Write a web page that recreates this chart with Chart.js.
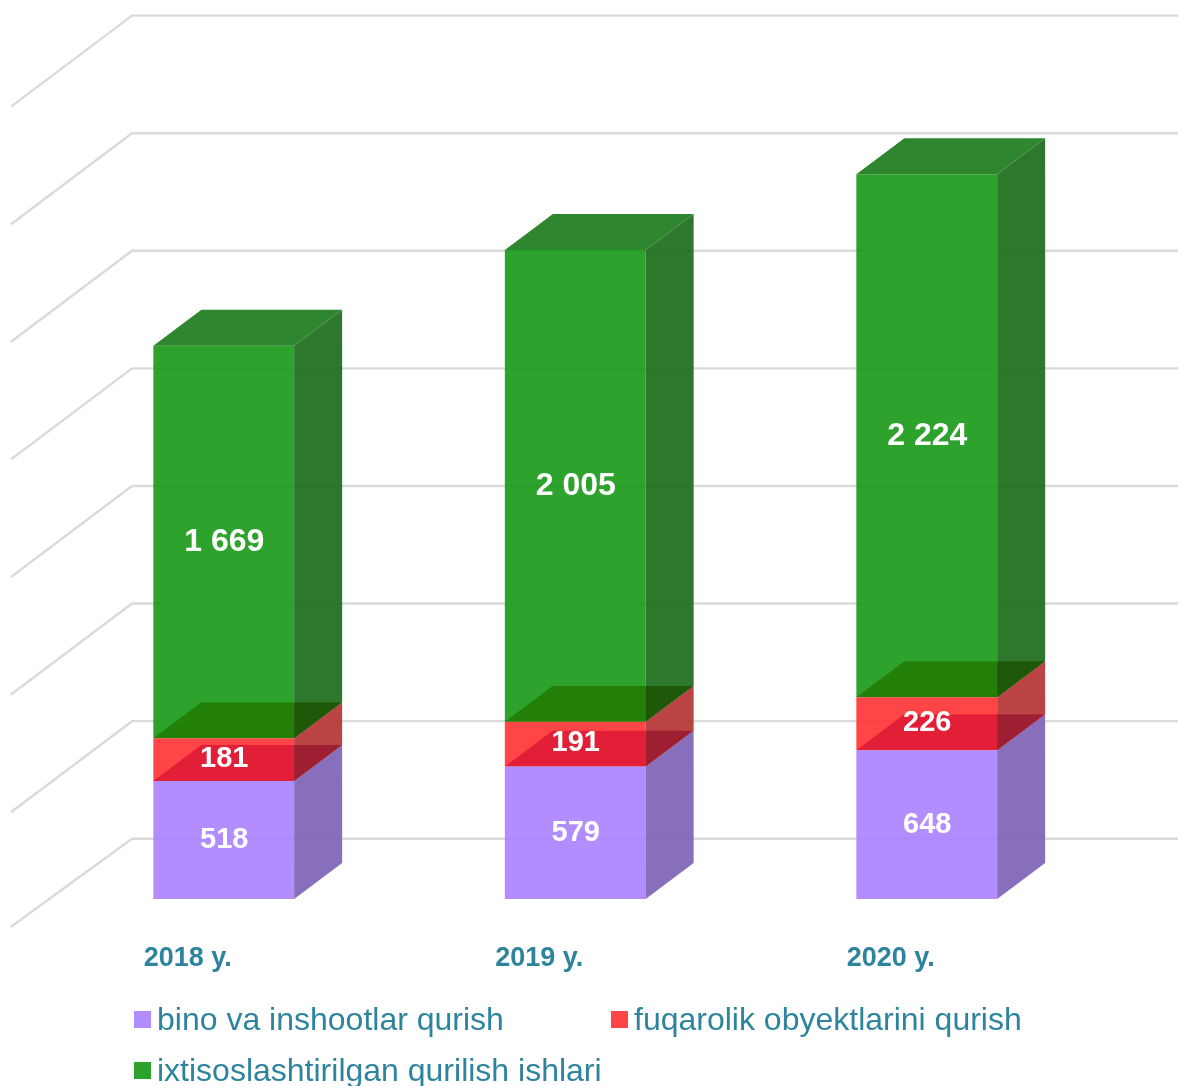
<!DOCTYPE html>
<html><head><meta charset="utf-8">
<style>html,body{margin:0;padding:0;background:#fff;overflow:hidden}canvas{display:block}</style>
<script src="https://cdn.jsdelivr.net/npm/chart.js@4/dist/chart.umd.min.js"></script>
</head><body><canvas id="c" width="1178" height="1086"></canvas>
<script>
const categories = ["2018 y.", "2019 y.", "2020 y."];
const binoValues = [518, 579, 648];
const fuqarolikValues = [181, 191, 226];
const ixtisosValues = [1669, 2005, 2224];
const seriesNames = ["bino va inshootlar qurish", "fuqarolik obyektlarini qurish", "ixtisoslashtirilgan qurilish ishlari"];
const gridTicks = [0, 500, 1000, 1500, 2000, 2500, 3000, 3500];

const frontColors = ["rgba(171,131,255,.92)", "rgba(255,53,53,.92)", "rgba(27,154,27,.92)"];
const sideColors = ["rgba(128,102,183,.94)", "rgba(182,56,56,.94)", "rgba(28,109,28,.92)"];
const overlayFront = ["rgba(225,29,56,.95)", "rgba(35,128,8,.97)"];
const overlaySide = ["rgba(158,30,50,.96)", "rgba(33,88,9,.97)"];
const legendColors = ["#B28DFF", "#FF4545", "#2DA22D"];
const textColor = "#2E849C";
const DX = 48, DY = 36;

function poly(ctx, pts, fill) {
  ctx.beginPath();
  pts.forEach((p, i) => i ? ctx.lineTo(p[0], p[1]) : ctx.moveTo(p[0], p[1]));
  ctx.closePath();
  ctx.fillStyle = fill;
  ctx.fill();
}
function fmt(v) { return String(v).replace(/\B(?=(\d{3})+$)/g, " "); }

const wallGrid = {
  id: "wallGrid",
  beforeDatasetsDraw(chart) {
    const ctx = chart.ctx, y = chart.scales.y;
    ctx.save();
    ctx.strokeStyle = "#dadada";
    ctx.lineWidth = 2.4;
    ctx.lineJoin = "round";
    gridTicks.forEach(t => {
      const py = y.getPixelForValue(t) - 64;
      ctx.beginPath();
      ctx.moveTo(1178, py);
      ctx.lineTo(132, py);
      ctx.lineTo(11, py + (t === 0 ? 88 : 91));
      ctx.stroke();
    });
    ctx.restore();
  }
};

const faces3d = {
  id: "faces3d",
  afterDatasetsDraw(chart) {
    const ctx = chart.ctx;
    const n = chart.data.labels.length;
    const floor = chart.chartArea.bottom;
    ctx.save();
    for (let i = 0; i < n; i++) {
      const bars = [0, 1, 2].map(d => chart.getDatasetMeta(d).data[i]);
      const x0 = bars[0].x - bars[0].width / 2, x1 = bars[0].x + bars[0].width / 2;
      // side faces
      bars.forEach((b, d) => {
        const base = Math.min(b.base, floor);
        poly(ctx, [[x1, base], [x1 + DX, base - DY], [x1 + DX, b.y - DY], [x1, b.y]], sideColors[d]);
      });
      // top of each lower segment seen through the segment above
      [0, 1].forEach(d => {
        const t = bars[d].y;
        const para = [[x0, t], [x1, t], [x1 + DX, t - DY], [x0 + DX, t - DY]];
        ctx.save();
        ctx.beginPath(); ctx.rect(x0, t - DY, x1 - x0, DY); ctx.clip();
        poly(ctx, para, overlayFront[d]);
        ctx.restore();
        ctx.save();
        ctx.beginPath(); ctx.rect(x1, t - DY, DX, DY); ctx.clip();
        poly(ctx, para, overlaySide[d]);
        ctx.restore();
      });
      // top cap
      const t = bars[2].y;
      poly(ctx, [[x0, t], [x1, t], [x1 + DX, t - DY], [x0 + DX, t - DY]], "#2E862E");
      // value labels
      ctx.fillStyle = "#fff";
      ctx.textAlign = "center";
      ctx.textBaseline = "middle";
      bars.forEach((b, d) => {
        ctx.font = "bold " + (d === 2 ? 32 : 29) + "px 'Liberation Sans'";
        const base = Math.min(b.base, floor);
        ctx.fillText(fmt(chart.data.datasets[d].data[i]), b.x + 0.5, (b.y + base) / 2 - (d === 1 ? 1 : 0));
      });
    }
    // legend
    const items = [[134, 1011], [611, 1011], [134, 1062]];
    ctx.font = "32px 'Liberation Sans'";
    ctx.textAlign = "left";
    ctx.textBaseline = "middle";
    seriesNames.forEach((name, k) => {
      const [lx, ly] = items[k];
      ctx.fillStyle = legendColors[k];
      ctx.fillRect(lx, ly, 17, 17);
      ctx.fillStyle = textColor;
      ctx.fillText(name, lx + 23, ly + 10);
    });
    ctx.restore();
  }
};

new Chart(document.getElementById("c"), {
  type: "bar",
  data: {
    labels: categories,
    datasets: [
      { label: seriesNames[0], data: binoValues, backgroundColor: frontColors[0] },
      { label: seriesNames[1], data: fuqarolikValues, backgroundColor: frontColors[1] },
      { label: seriesNames[2], data: ixtisosValues, backgroundColor: frontColors[2] }
    ]
  },
  options: {
    responsive: false,
    animation: false,
    layout: { padding: { left: 48, right: 75.5, top: 79.6, bottom: 0 } },
    plugins: { legend: { display: false }, tooltip: { enabled: false } },
    datasets: { bar: { barPercentage: 1, categoryPercentage: 0.4006, borderWidth: 0 } },
    scales: {
      x: {
        stacked: true,
        grid: { display: false, drawTicks: false },
        border: { display: false },
        afterFit(s) { s.height = 187; },
        ticks: {
          color: textColor,
          font: { family: "'Liberation Sans'", size: 27, weight: "bold" },
          padding: 43,
          labelOffset: -36,
          maxRotation: 0,
          autoSkip: false
        }
      },
      y: { stacked: true, display: false, min: 16, max: 3500 }
    }
  },
  plugins: [wallGrid, faces3d]
});
</script></body></html>
